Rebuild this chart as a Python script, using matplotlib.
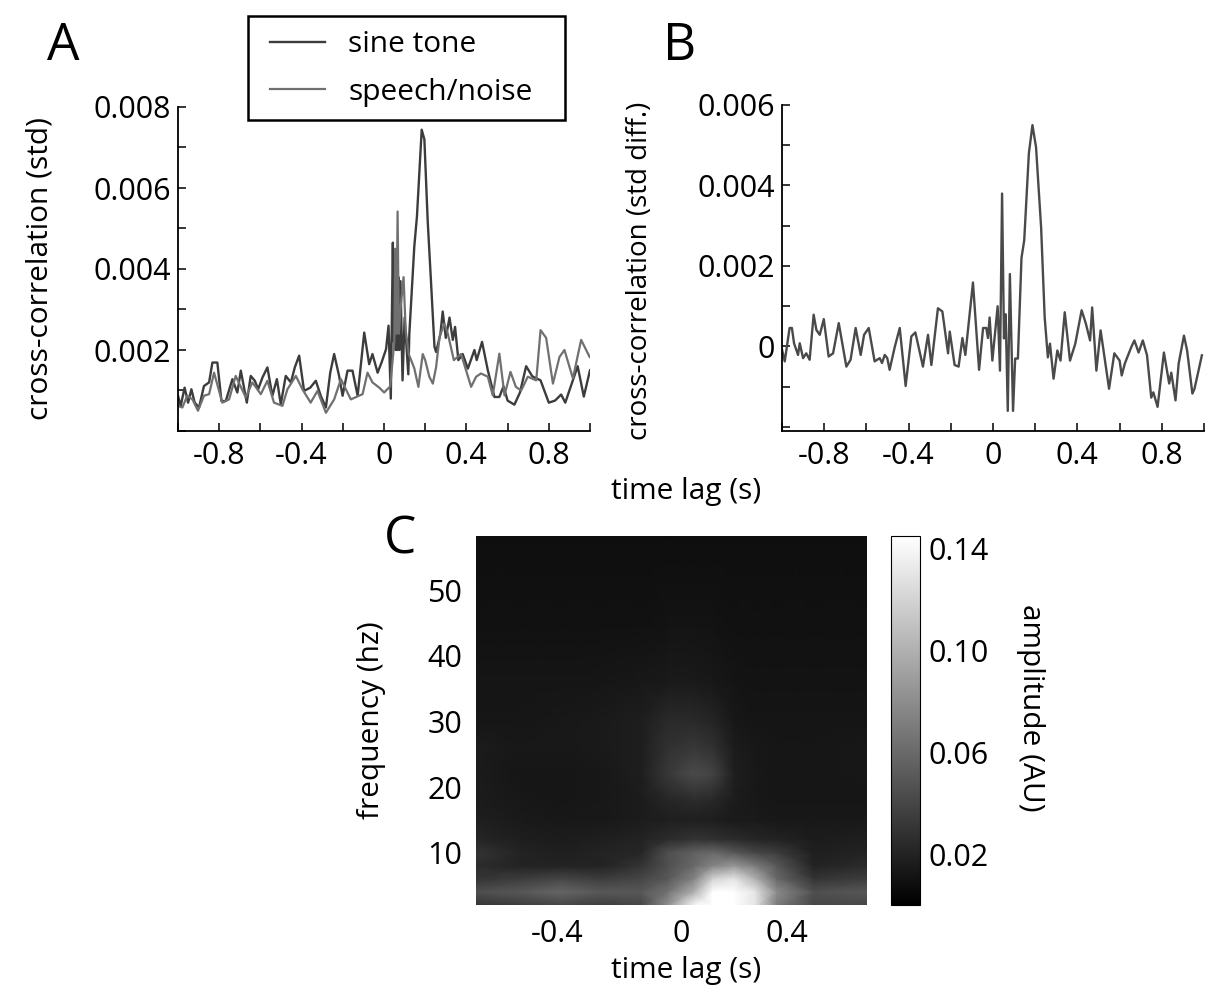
import matplotlib
matplotlib.use('Agg')
import matplotlib.pyplot as plt
import numpy as np
from matplotlib.patches import Rectangle
from matplotlib.ticker import MultipleLocator

plt.rcParams['font.family'] = ['Open Sans', 'DejaVu Sans']

W, H = 1208, 988
TICK_SIZE = 22
LABEL_SIZE = 21.5

# panel A, values in units of 1e-3 std
sine_lag = [-1, -.987, -.968, -.951, -.935, -.919, -.898, -.874, -.849, -.833, -.809, -.789, -.768, -.736, -.712,
            -.695, -.666, -.647, -.627, -.611, -.59, -.566, -.542, -.52, -.501, -.477, -.452, -.433, -.412, -.388,
            -.358, -.331, -.307, -.282, -.261, -.242, -.218, -.201, -.177, -.153, -.128, -.096, -.072, -.056,
            -.031, -.012, .01, .022, .033, .043, .048, .052, .057, .06, .065, .07, .075, .08, .09, .1, .118, .123,
            .147, .16, .183, .196,
            .212, .228, .245, .253, .274, .285, .30, .318, .334, .345, .361, .382, .407, .439, .45, .476, .504,
            .536, .56, .58, .60, .633, .66, .69, .72, .76, .80, .83, .86, .88, .92, .94, .97, 1.0]
sine_val = [.87, .62, 1.07, .7, 1.03, .7, .58, 1.11, 1.2, 1.69, 1.69, .74, .74, 1.28, .95,
            1.49, .7, 1.36, 1.24, 1.03, 1.32, 1.57, .87, 1.28, .66, 1.36, 1.2, 1.57, 1.86, .99,
            1.07, 1.24, .87, .58, 1.44, 1.9, 1.36, .87, 1.49, 1.49, .87, 2.43, 1.65, 1.9,
            1.44, 1.69, 2.02, 2.6, .8, 4.65, 2.2, 4.0, 2.0, 3.6, 2.0, 3.8, 2.0, 3.7, 1.25, 2.8, 1.4, 2.4,
            4.55, 5.3, 7.44, 7.2,
            5.2, 3.7, 2.08, 1.95, 2.4, 2.95, 2.3, 2.8, 2.25, 2.57, 1.75, 1.9, 1.54, 2.0, 1.75, 2.2, 1.5,
            .84, .84, 1.1, .75, .65, .95, 1.6, 1.35, 1.25, .7, .75, .9, .7, 1.3, 1.6, .85, 1.5]

speech_lag = [-1, -.979, -.955, -.93, -.903, -.874, -.849, -.825, -.785, -.752, -.72, -.671, -.639, -.598, -.566,
              -.534, -.493, -.469, -.428, -.396, -.356, -.323, -.282, -.242, -.209, -.161, -.104, -.08, -.056,
              -.023, .001, .01, .03, .05, .055, .06, .066, .072, .08, .095, .105, .12, .147, .167, .188, .2, .22,
              .237, .253, .27,
              .293, .31, .339, .374, .423, .447, .471, .504, .528, .56, .585, .614, .64, .666, .698, .739, .76,
              .787, .82, .852, .876, .917, .957, .998]
speech_val = [.62, .58, .87, .78, .5, .87, .91, 1.44, .7, .78, 1.36, .83, 1.2, .91, 1.24,
              .7, .62, 1.03, 1.36, 1.03, .7, .99, .45, .78, 1.28, .78, .91, 1.44, 1.2,
              1.07, .95, 1.0, 1.1, 2.2, 4.5, 2.4, 5.42, 2.4, 3.0, 3.8, 2.5, 1.9, 1.55, 1.09, 1.9, 1.75, 1.34,
              1.17, 1.58, 2.33,
              2.65, 2.4, 1.75, 1.9, 1.09, 1.34, 1.42, 1.34, .88, 1.91, .88, 1.46, 1.09, 1.0, 1.34, 1.25, 2.49,
              2.3, 1.17, 1.83, 2.0, 1.3, 2.25, 1.83]

# panel B, sine minus speech
diff_lag = [-1, -.987, -.964, -.953, -.943, -.924, -.916, -.9, -.885, -.869, -.85, -.837, -.821, -.802, -.779,
            -.758, -.731, -.695, -.675, -.651, -.627, -.611, -.589, -.561, -.537, -.526, -.513, -.501, -.49,
            -.466, -.442, -.414, -.387, -.368, -.332, -.308, -.292, -.261, -.24, -.213, -.205, -.182, -.163,
            -.145, -.131, -.095, -.066, -.047, -.032, -.024, -.016, -.003, .022, .033, .043, .052, .06, .07,
            .08, .095, .105, .118, .135, .148, .17, .187, .204, .228, .245, .26, .27, .287, .305, .32, .34,
            .365, .39, .42, .44, .46, .47, .49, .51, .55, .575, .6, .61, .625, .655, .67, .69, .71, .73, .75,
            .76, .78, .81, .835, .845, .865, .88, .905, .92, .945, .955, .99]
diff_val = [-.08, -.37, .46, .46, .08, -.21, .08, -.29, -.17, -.33, .79, .41, .29, .68, -.25,
            -.17, .58, -.5, -.33, .46, -.21, .29, .46, -.37, -.29, -.41, -.21, -.29, -.58,
            -.02, .46, -.98, .25, .35, -.5, .29, -.46, .95, .87, -.17, .37, -.46, -.5,
            .21, -.21, 1.59, -.58, .46, .46, .21, .72, -.35, 1.0, -.6, 3.8, .2, .8, -1.6,
            1.8, -1.6, -.3, -.3, 2.2, 2.64, 4.8, 5.5, 4.95, 2.96, .72, -.27, .07, -.8, -.1, -.35, .85,
            -.35, .07, .9, .57, .15, .97, -.6, .4, -1.05, -.17, -.35, -.72, -.42, -.02, .15, -.15, .15, -.22, -1.27,
            -1.14, -1.5, -.15, -.92, -.65, -1.34, -.42, .27, -.1, -1.17, -1.05, -.22]

# panel C
freq_lags = [-.77, -.6, -.45, -.3, -.15, -.05, .05, .12, .2, .28, .36, .5, .7]
freq_hz = [2, 4, 6, 8, 10, 12, 15, 18, 22, 26, 30, 36, 45, 59]
amp = [[.030, .035, .040, .035, .040, .080, .140, .150, .150, .130, .070, .040, .040],
       [.045, .050, .058, .050, .050, .065, .100, .150, .155, .130, .080, .045, .050],
       [.030, .035, .040, .035, .040, .050, .075, .120, .130, .100, .060, .030, .035],
       [.025, .020, .020, .020, .030, .045, .060, .075, .085, .070, .050, .020, .025],
       [.030, .020, .018, .020, .022, .045, .055, .060, .050, .040, .035, .018, .020],
       [.022, .017, .016, .018, .020, .025, .030, .028, .025, .022, .020, .016, .018],
       [.018, .015, .014, .014, .016, .018, .018, .017, .015, .015, .014, .014, .014],
       [.016, .014, .013, .014, .016, .022, .025, .023, .016, .014, .013, .013, .013],
       [.016, .013, .013, .014, .017, .032, .043, .038, .018, .014, .013, .013, .014],
       [.016, .014, .014, .015, .017, .028, .032, .028, .016, .014, .013, .013, .014],
       [.013, .013, .014, .015, .017, .024, .024, .021, .014, .012, .012, .012, .012],
       [.012, .012, .012, .013, .014, .015, .015, .014, .012, .011, .011, .011, .011],
       [.010, .010, .010, .010, .010, .011, .011, .011, .010, .010, .010, .010, .010],
       [.008, .008, .008, .008, .008, .008, .008, .008, .008, .008, .008, .008, .008]]


def box(left, top, right, bottom):
    # pixel box to figure fraction
    return [left / W, 1 - bottom / H, (right - left) / W, (bottom - top) / H]


def line_axes(ax):
    ax.spines['top'].set_visible(False)
    ax.spines['right'].set_visible(False)
    ax.spines['left'].set_linewidth(1.3)
    ax.spines['bottom'].set_linewidth(1.3)
    ax.set_xlim(-1, 1)
    ax.set_xticks([-.8, -.4, 0, .4, .8], ['-0.8', '-0.4', '0', '0.4', '0.8'])
    ax.xaxis.set_minor_locator(MultipleLocator(.2))
    ax.yaxis.set_minor_locator(MultipleLocator(1))
    ax.tick_params(which='both', direction='in', length=6, width=1.1)
    ax.tick_params(axis='x', labelsize=TICK_SIZE, pad=7)
    ax.tick_params(axis='y', labelsize=TICK_SIZE, pad=5)


fig = plt.figure(figsize=(W / 100, H / 100), dpi=100)

ax_a = fig.add_axes(box(178, 107, 590, 431))
ax_a.plot(sine_lag, sine_val, color='#3c3c3c', lw=1.7, label='sine tone')
ax_a.plot(speech_lag, speech_val, color='#707070', lw=1.6, label='speech/noise')
line_axes(ax_a)
ax_a.set_ylim(0, 8)
ax_a.set_yticks([2, 4, 6, 8], ['0.002', '0.004', '0.006', '0.008'])
ax_a.set_ylabel('cross-correlation (std)', fontsize=LABEL_SIZE, va='center')
ax_a.yaxis.set_label_coords((40 - 178) / 412, 0.5)

fig.add_artist(Rectangle((248 / W, 1 - 120 / H), 317 / W, 104 / H, transform=fig.transFigure,
                         facecolor='white', edgecolor='black', linewidth=1.8))
leg = fig.legend(loc='upper left', bbox_to_anchor=(270 / W, 1 - 30 / H), bbox_transform=fig.transFigure,
                 handles=ax_a.get_lines(), fontsize=LABEL_SIZE, frameon=False,
                 handlelength=1.85, handletextpad=0.77, labelspacing=0.62, borderaxespad=0, borderpad=0)

ax_b = fig.add_axes(box(782, 105, 1204, 431))
ax_b.plot(diff_lag, diff_val, color='#4a4a4a', lw=1.7)
line_axes(ax_b)
ax_b.set_ylim(-2.1, 6)
ax_b.set_yticks([0, 2, 4, 6], ['0', '0.002', '0.004', '0.006'])
ax_b.set_ylabel('cross-correlation (std diff.)', fontsize=20, va='center')
ax_b.yaxis.set_label_coords((640 - 782) / 422, 0.49)

ax_c = fig.add_axes(box(476, 536, 867, 905))
mesh = ax_c.pcolormesh(freq_lags, freq_hz, np.array(amp), cmap='gray', vmin=0, vmax=.145, shading='gouraud')
ax_c.set_xlim(-.77, .7)
ax_c.set_ylim(2, 58.3)
ax_c.set_xticks([-.465, 0, .4], ['-0.4', '0', '0.4'])
ax_c.set_yticks([10, 20, 30, 40, 50])
ax_c.tick_params(length=0, labelsize=TICK_SIZE, pad=10)
ax_c.set_ylabel('frequency (hz)', fontsize=LABEL_SIZE, va='center')
ax_c.yaxis.set_label_coords((372 - 476) / 391, 0.5)
for s in ax_c.spines.values():
    s.set_visible(False)

cax = fig.add_axes(box(891, 536, 920, 905))
cb = fig.colorbar(mesh, cax=cax, ticks=[.02, .06, .10, .14])
cb.ax.set_yticklabels(['0.02', '0.06', '0.10', '0.14'])
cb.ax.tick_params(length=0, labelsize=TICK_SIZE, pad=6)
cb.outline.set_linewidth(0.8)

fig.text(1030 / W, 1 - 708 / H, 'amplitude (AU)', fontsize=LABEL_SIZE, rotation=270, ha='center', va='center')
fig.text(686 / W, 1 - 492 / H, 'time lag (s)', fontsize=LABEL_SIZE, ha='center', va='center')
fig.text(686 / W, 1 - 970 / H, 'time lag (s)', fontsize=LABEL_SIZE, ha='center', va='center')

fig.text(63 / W, 1 - 46 / H, 'A', fontsize=37, ha='center', va='center')
fig.text(680 / W, 1 - 46 / H, 'B', fontsize=37, ha='center', va='center')
fig.text(400 / W, 1 - 540 / H, 'C', fontsize=37, ha='center', va='center')

fig.savefig('out.png', dpi=100)
